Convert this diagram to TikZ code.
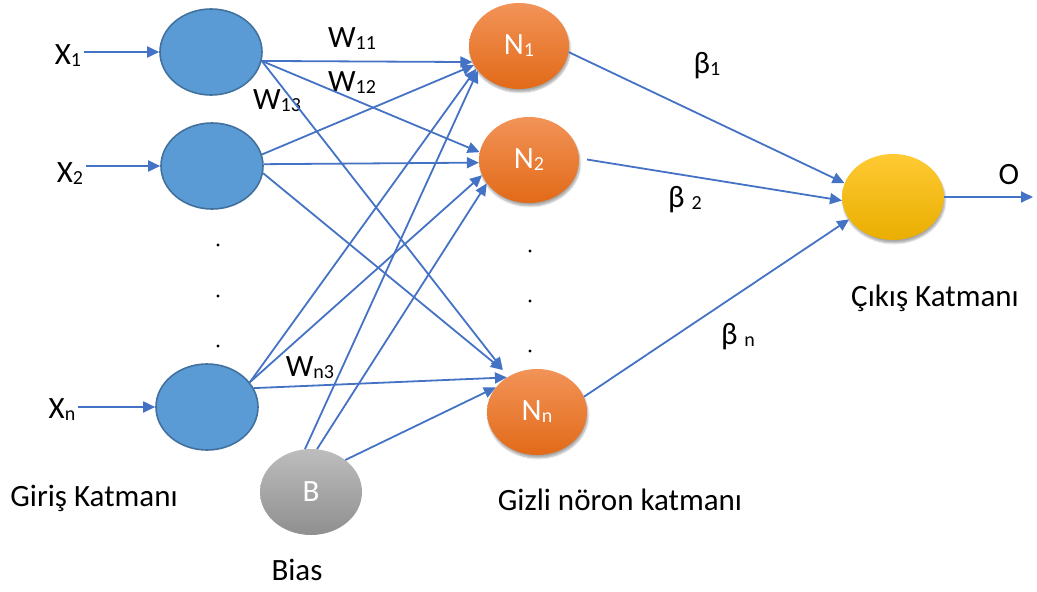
\documentclass[tikz,border=0pt]{standalone}
\usepackage{fontspec}
\setmainfont{Carlito}
\usetikzlibrary{arrows.meta,shapes.geometric,shadows.blur}

\definecolor{link-blue}{HTML}{4472C4}
\definecolor{input-fill}{HTML}{5B9BD5}
\definecolor{input-edge}{HTML}{41719C}
\definecolor{hidden-top}{HTML}{F29358}
\definecolor{hidden-bottom}{HTML}{E26A18}
\definecolor{out-top}{HTML}{FFCA33}
\definecolor{out-bottom}{HTML}{E9AE00}
\definecolor{bias-top}{HTML}{BDBDBD}
\definecolor{bias-bottom}{HTML}{8F8F8F}

\newcommand{\lowidx}[1]{\raisebox{-2pt}{\fontsize{20}{24}\selectfont #1}}

\tikzset{
    neuron/.style = {ellipse, minimum width=102pt, minimum height=86pt, inner sep=0pt, font=\fontsize{31}{36}\selectfont},
    input-neuron/.style = {neuron, draw=input-edge, fill=input-fill, line width=1.6pt},
    soft-shadow/.style = {blur shadow={shadow blur steps=6, shadow xshift=1pt, shadow yshift=-3pt, shadow opacity=35}},
    hidden-neuron/.style = {neuron, minimum width=100pt, top color=hidden-top, bottom color=hidden-bottom, text=white, soft-shadow},
    output-neuron/.style = {neuron, top color=out-top, bottom color=out-bottom, soft-shadow},
    bias-neuron/.style = {neuron, top color=bias-top, bottom color=bias-bottom, text=white},
    label-text/.style = {inner sep=0pt, font=\fontsize{31}{36}\selectfont},
    link/.style = {draw=link-blue, line width=1.8pt, -{Triangle[length=12pt, width=11pt]}},
}

\begin{document}
\begin{tikzpicture}[x=1pt, y=-1pt]
\useasboundingbox (0,0) rectangle (1037,592);

\node[input-neuron] (i1) at (211,52) {};
\node[input-neuron] (i2) at (212,166) {};
\node[input-neuron] (in) at (207,407) {};

\node[hidden-neuron] (h1) at (519,46) {N\lowidx{1}};
\node[hidden-neuron] (h2) at (529,160) {N\lowidx{2}};
\node[hidden-neuron] (hn) at (537,412) {N\lowidx{n}};

\node[output-neuron] (out) at (893,197) {};
\node[bias-neuron] (bias) at (311,492) {B};

\foreach \y in {245,296,346} \fill (218,\y) circle (1.6pt);
\foreach \y in {251,301,351} \fill (530,\y) circle (1.6pt);

\node[label-text] (x1) at (68,56) {X\lowidx{1}};
\node[label-text] (x2) at (70,174) {X\lowidx{2}};
\node[label-text] (xn) at (62,410) {X\lowidx{n}};
\node[label-text] (w11) at (352,39) {W\lowidx{11}};
\node[label-text] (w12) at (352,83) {W\lowidx{12}};
\node[label-text] (w13) at (277,101) {W\lowidx{13}};
\node[label-text] (wn3) at (310,368) {W\lowidx{n3}};
\node[label-text] (b1) at (707,66) {β\lowidx{1}};
\node[label-text] (b2) at (685,200) {β \lowidx{2}};
\node[label-text] (bn) at (738,337) {β \lowidx{n}};
\node[label-text] (o) at (1009,175) {O};
\coordinate (o-end) at (1033,197);

\node[label-text] (in-layer) at (94,498) {Giriş Katmanı};
\node[label-text] (hid-layer) at (620,500) {Gizli nöron katmanı};
\node[label-text] (out-layer) at (935,298) {Çıkış Katmanı};
\node[label-text] (bias-text) at (297,570) {Bias};

\draw[link, shorten <=3pt] (x1.east |- i1) -- (i1);
\draw[link, shorten <=3pt] (x2.east |- i2) -- (i2);
\draw[link, shorten <=3pt] (xn.east |- in) -- (in);

\draw[link] (i1.-10) -- (h1.199);
\draw[link] (i1.-10) -- (h2.171);
\draw[link, shorten >=9pt] (i1.-10) -- (hn.129);
\draw[link] (i2.13) -- (h1.203);
\draw[link] (i2.2) -- (h2.183);
\draw[link, shorten >=9pt] (i2.-8) -- (hn.127);
\draw[link] (in.30) -- (h1.208);
\draw[link] (in.30) -- (h2.198);
\draw[link] (in.22) -- (hn.131);
\draw[link] (bias.98) -- (h1.211);
\draw[link] (bias.82) -- (h2.209);
\draw[link] (bias.43) -- (hn.149);

\draw[link] (h1.-7) -- (out.164);
\draw[link, shorten <=8pt] (h2.2) -- (out.184);
\draw[link] (hn.18) -- (out.207);
\draw[link] (out) -- (o-end);
\end{tikzpicture}
\end{document}
